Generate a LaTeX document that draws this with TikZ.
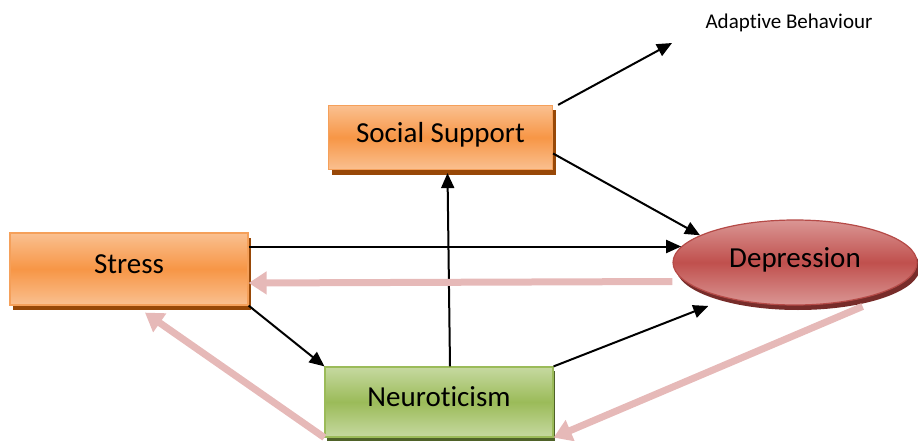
\documentclass[tikz,border=0pt]{standalone}
\usepackage{fontspec}
\setmainfont[Ligatures=NoCommon]{Carlito}
\usetikzlibrary{arrows.meta,shapes.geometric,shadows}

\definecolor{orangelight}{HTML}{FAC090}
\definecolor{orangemid}{HTML}{F79646}
\definecolor{orangeline}{HTML}{F5A05A}
\definecolor{orangeshade}{HTML}{984807}
\definecolor{greenlight}{HTML}{C6D9A0}
\definecolor{greenmid}{HTML}{9BBB59}
\definecolor{greenshade}{HTML}{4F6228}
\definecolor{redlight}{HTML}{DA9694}
\definecolor{redmid}{HTML}{C0504D}
\definecolor{redline}{HTML}{B54A47}
\definecolor{redshade}{HTML}{772C2A}
\definecolor{feedback}{HTML}{E6B9B8}

\tikzset{
  factor/.style={rectangle, minimum width=#1, inner sep=0pt,
    text height=20pt, text depth=10.5pt,
    font=\fontsize{29}{34}\selectfont},
  orangebox/.style={factor=224pt, minimum height=64pt, draw=orangeline, line width=1.2pt,
    top color=orangelight, bottom color=orangelight, middle color=orangemid,
    general shadow={fill=orangeshade, shadow xshift=3pt, shadow yshift=-5pt}},
  greenbox/.style={factor=228pt, minimum height=70pt, draw=greenmid, line width=1.2pt,
    top color=greenlight, bottom color=greenlight, middle color=greenmid,
    general shadow={fill=greenshade, shadow xshift=2pt, shadow yshift=-4pt}},
  outcome/.style={ellipse, inner sep=0pt, minimum width=244pt, minimum height=85pt,
    draw=redline, line width=1.2pt,
    top color=redlight, bottom color=redlight, middle color=redmid,
    text height=20pt, text depth=10.5pt,
    font=\fontsize{29}{34}\selectfont,
    general shadow={fill=redshade, shadow xshift=3pt, shadow yshift=-5pt}},
  link/.style={line width=2pt, -{Triangle[length=15pt,width=13pt]}},
  backlink/.style={draw=feedback, line width=7pt, -{Triangle[length=18pt,width=22pt]}}
}

\begin{document}
\begin{tikzpicture}[x=1pt,y=-1pt]
      \useasboundingbox (0,0) rectangle (918,441);
      \draw
        (440.5,137.5) node[orangebox] (support){Social Support}
        (129,269) node[orangebox, minimum width=238pt, minimum height=72pt] (stress){Stress}
        (439,402) node[greenbox] (neuro){Neuroticism}
        (795,262.5) node[outcome] (depress){Depression}
        (789,23) node[font=\fontsize{21}{25}\selectfont] (adapt){Adaptive Behaviour};
      \coordinate (adaptend) at (672,43);
      \begin{scope}[link]
        \draw ([xshift=5pt]support.north east) to (adaptend);
        \draw ([yshift=-16pt]support.east) to (depress.164);
        \draw (stress.east |- depress.172) to (depress.172);
        \draw (stress.south east) to (neuro.north west);
        \draw ([xshift=11pt]neuro.north) to ([xshift=7pt,yshift=-3pt]support.south);
        \draw (neuro.north east) to ([yshift=-13pt]depress.south west);
      \end{scope}
      \begin{scope}[backlink]
        \draw ([yshift=-19pt]depress.west) to ([yshift=-14pt]stress.east);
        \draw (neuro.south west) to ([xshift=16pt,yshift=-7pt]stress.south);
        \draw ([yshift=-8pt]depress.-28) to (neuro.south east);
      \end{scope}
    \end{tikzpicture}
\end{document}
